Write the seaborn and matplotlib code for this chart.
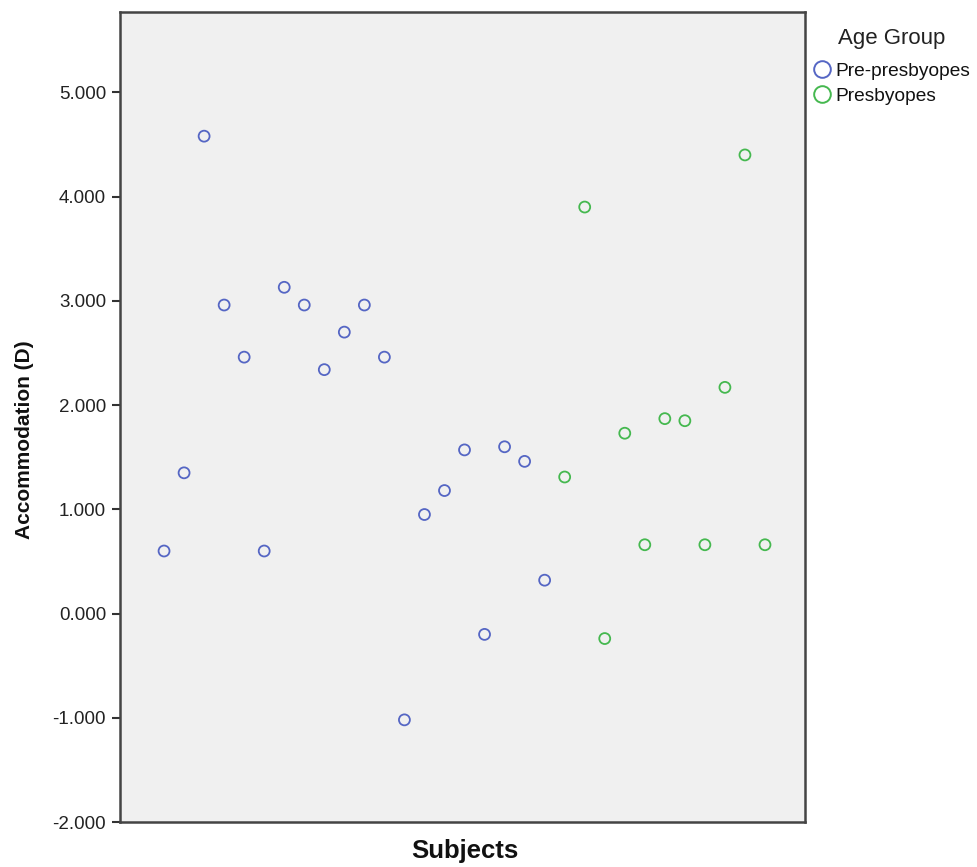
import matplotlib
matplotlib.use("Agg")
import matplotlib.pyplot as plt
import seaborn as sns
import pandas as pd
from matplotlib.lines import Line2D

subjects = list(range(1, 32))
groups = ["Pre-presbyopes"] * 20 + ["Presbyopes"] * 11
accommodation = [0.60, 1.35, 4.58, 2.96, 2.46, 0.60, 3.13, 2.96, 2.34, 2.70,
                 2.96, 2.46, -1.02, 0.95, 1.18, 1.57, -0.20, 1.60, 1.46, 0.32,
                 1.31, 3.90, -0.24, 1.73, 0.66, 1.87, 1.85, 0.66, 2.17, 4.40, 0.66]
y_ticks = [-2, -1, 0, 1, 2, 3, 4, 5]
palette = {"Pre-presbyopes": "#5566c4", "Presbyopes": "#45b84f"}

df = pd.DataFrame({"Subject": subjects, "Group": groups, "Accommodation": accommodation})

sns.set_style("white")
plt.rcParams['font.family'] = ['Liberation Sans', 'DejaVu Sans']
fig = plt.figure(figsize=(9.77, 8.67), dpi=100)
ax = fig.add_axes([0.1228, 0.0519, 0.8240 - 0.1228, 0.986 - 0.0519])
ax.set_facecolor("#f0f0f0")

for g, sub in df.groupby("Group"):
    sns.scatterplot(data=sub, x="Subject", y="Accommodation", ax=ax, s=62,
                    facecolors="none", edgecolor=palette[g], linewidth=1.3,
                    marker="o", legend=False)

ax.set_xlim(-1.2, 33.0)
ax.set_ylim(-2, 5.77)
ax.set_yticks(y_ticks)
ax.set_yticklabels([f"{v:.3f}" for v in y_ticks], fontsize=13.5, color="#222222")
ax.set_xticks([])
ax.tick_params(axis="y", direction="out", length=6, width=1.5, color="#333333", left=True, pad=4)
for sp in ax.spines.values():
    sp.set_visible(True)
    sp.set_color("#444444")
    sp.set_linewidth(1.8)

ax.set_xlabel("Subjects", fontsize=18.5, fontweight="bold", color="#111111")
ax.xaxis.set_label_coords(0.504, -0.0215)
ax.set_ylabel("Accommodation (D)", fontsize=15, fontweight="bold", color="#111111")
ax.yaxis.set_label_coords(-0.126, 0.472)

handles = [Line2D([], [], marker="o", linestyle="none", markerfacecolor="none",
                  markeredgecolor=palette[g], markeredgewidth=1.4, markersize=12)
           for g in palette]
leg = fig.legend(handles, list(palette.keys()), title="Age Group",
                 loc="upper left", bbox_to_anchor=(0.831, 0.968), frameon=False,
                 fontsize=13.8, title_fontsize=16, handletextpad=0.15,
                 borderaxespad=0, labelspacing=0.38, handlelength=1.1,
                 borderpad=0)
leg.get_title().set_color("#222222")
for t in leg.get_texts():
    t.set_color("#111111")
leg._legend_box.align = "center"
leg._legend_box.sep = 10

fig.savefig("out.png", dpi=100)
